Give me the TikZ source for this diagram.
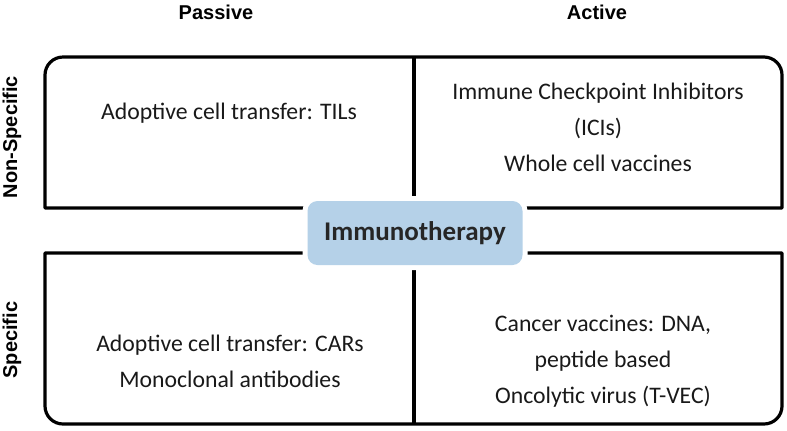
\documentclass[tikz,border=0pt]{standalone}
\usepackage{fontspec}
\setmainfont{Carlito}
\newfontfamily\hdrfont{Liberation Sans}
\definecolor{hubblue}{RGB}{181,209,232}
\begin{document}
\begin{tikzpicture}[x=0.75pt,y=-0.75pt,
  frame/.style={line width=2.4pt, black, line join=round},
  hdr/.style={font=\hdrfont\bfseries\fontsize{15}{18}\selectfont, inner sep=0pt},
  body/.style={font=\fontsize{17.8}{27}\selectfont, align=center, text=black!90, inner sep=0pt},
  hub/.style={rounded corners=7.5pt, fill=hubblue, minimum width=161.25pt, minimum height=48pt,
    preaction={draw=white, line width=7.5pt},
    font=\bfseries\fontsize{20.25}{24}\selectfont, text=black!85}]
\useasboundingbox (0,0) rectangle (787,430);
% top frame
\draw[frame] (414,208) -- (45,208) -- (45,75) arc[start angle=180, end angle=270, radius=18]
  -- (764,57) arc[start angle=270, end angle=360, radius=18] -- (782,208) -- cycle;
\draw[frame] (414,57) -- (414,208);
% bottom frame
\draw[frame] (45,253) -- (782,253) -- (782,406) arc[start angle=0, end angle=90, radius=18]
  -- (63,424) arc[start angle=90, end angle=180, radius=18] -- cycle;
\draw[frame] (414,253) -- (414,424);
% hub
\node[hub] (hub) at (415,233) {Immunotherapy};
% headers
\node[hdr] (passive) at (216,12) {Passive};
\node[hdr] (active) at (597,12) {Active};
\node[hdr, rotate=90] (nonspec) at (12,137) {Non-Specific};
\node[hdr, rotate=90] (spec) at (12,340) {Specific};
% quadrant texts
\node[body] (tl) at (229,113) {Adoptive cell transfer: TILs};
\node[body] (tr) at (598,127) {Immune Checkpoint Inhibitors\\(ICIs)\\Whole cell vaccines};
\node[body] (bl) at (230,361) {Adoptive cell transfer: CARs\\Monoclonal antibodies};
\node[body] (br) at (603,361) {Cancer vaccines: DNA,\\peptide based\\Oncolytic virus (T-VEC)};
\end{tikzpicture}
\end{document}
